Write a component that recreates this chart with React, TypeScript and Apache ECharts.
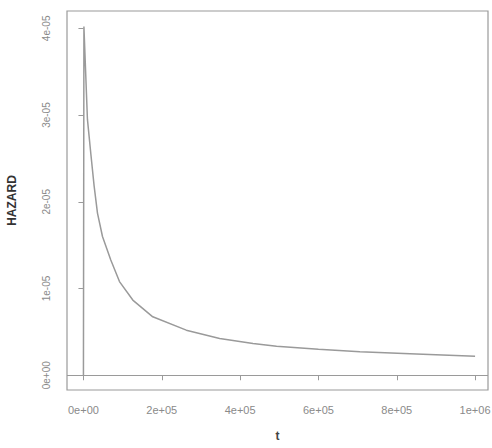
import React, { useEffect, useRef } from "react";
import * as echarts from "echarts";

const tValues = [0, 1200, 10200, 18700, 27300, 35800, 48600, 69800, 92000, 126000, 177000, 262600, 347800, 433000, 493000, 600000, 706000, 850000, 1000000];
const hazardValues = [0, 4.02e-5, 2.95e-5, 2.56e-5, 2.18e-5, 1.87e-5, 1.6e-5, 1.33e-5, 1.08e-5, 0.867e-5, 0.674e-5, 0.52e-5, 0.424e-5, 0.366e-5, 0.335e-5, 0.3e-5, 0.27e-5, 0.245e-5, 0.22e-5];
const xTicks = [0, 200000, 400000, 600000, 800000, 1000000];
const yTicks = [0, 1e-5, 2e-5, 3e-5, 4e-5];

function sci(v: number): string {
  if (v === 0) return "0e+00";
  const e = Math.floor(Math.log10(Math.abs(v)) + 1e-9);
  const m = Math.round(v / Math.pow(10, e));
  const sign = e < 0 ? "-" : "+";
  const ae = Math.abs(e);
  return `${m}e${sign}${ae < 10 ? "0" + ae : ae}`;
}

export default function App() {
  const ref = useRef<HTMLDivElement>(null);
  useEffect(() => {
    if (!ref.current) return;
    const chart = echarts.init(ref.current, null, { renderer: "svg" });
    const gray = "#9a9a9a";
    chart.setOption({
      animation: false,
      backgroundColor: "#ffffff",
      grid: {
        left: 67,
        top: 11,
        right: 4,
        bottom: 58,
        show: true,
        borderColor: gray,
        borderWidth: 1.2,
        containLabel: false,
        outerBoundsMode: "none",
      },
      xAxis: {
        type: "value",
        min: -42000,
        max: 1033000,
        name: "t",
        nameLocation: "middle",
        nameGap: 40,
        nameTextStyle: { color: "#444", fontSize: 12, fontFamily: "Liberation Sans", fontWeight: "bold" },
        axisLine: { show: false },
        splitLine: { show: false },
        axisTick: { show: true, length: 5, lineStyle: { color: gray }, customValues: xTicks },
        axisLabel: {
          color: "#8a8a8a",
          fontSize: 11,
          fontFamily: "Liberation Sans",
          margin: 14,
          customValues: xTicks,
          formatter: (v: number) => sci(v),
        },
      },
      yAxis: {
        type: "value",
        min: -1.7e-6,
        max: 4.2e-5,
        name: "HAZARD",
        nameLocation: "middle",
        nameGap: 49,
        nameTextStyle: { color: "#333", fontSize: 12, fontFamily: "Liberation Sans", fontWeight: "bold" },
        axisLine: { show: false },
        splitLine: { show: false },
        axisTick: { show: true, length: 5, lineStyle: { color: gray }, customValues: yTicks },
        axisLabel: {
          color: "#8a8a8a",
          fontSize: 10,
          fontFamily: "Liberation Sans",
          rotate: 90,
          margin: 16,
          customValues: yTicks,
          formatter: (v: number) => sci(v),
        },
      },
      series: [
        {
          type: "line",
          data: tValues.map((t, i) => [t, hazardValues[i]]),
          showSymbol: false,
          smooth: false,
          lineStyle: { color: gray, width: 1.5 },
          markLine: {
            silent: true,
            symbol: ["none", "none"],
            label: { show: false },
            lineStyle: { color: gray, width: 1.2, type: "solid" },
            data: [{ yAxis: 0 }],
          },
        },
      ],
    });
    return () => chart.dispose();
  }, []);
  return <div ref={ref} style={{ width: 492, height: 448, position: "absolute", left: 0, top: 0 }} />;
}
